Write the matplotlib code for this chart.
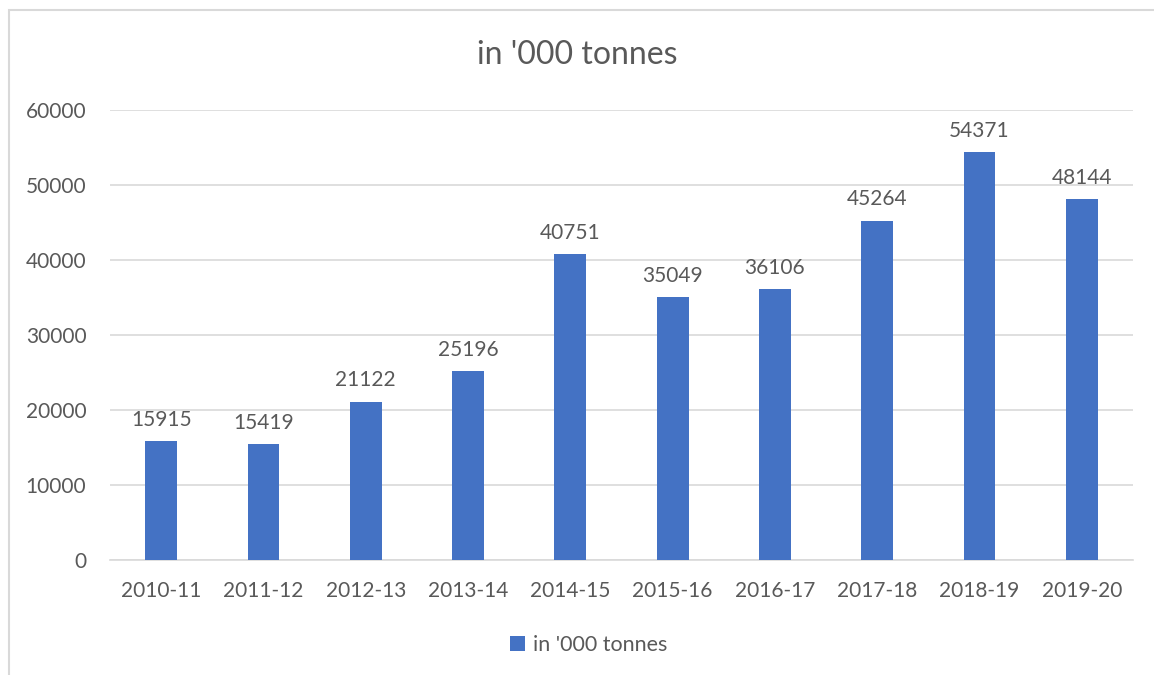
import matplotlib.pyplot as plt
from matplotlib.patches import Rectangle

plt.rcParams['font.family'] = ['Lato', 'DejaVu Sans']

years = ['2010-11', '2011-12', '2012-13', '2013-14', '2014-15',
         '2015-16', '2016-17', '2017-18', '2018-19', '2019-20']
tonnes = [15915, 15419, 21122, 25196, 40751, 35049, 36106, 45264, 54371, 48144]

text_col = '#595959'
bar_col = '#4472C4'
grid_col = '#D9D9D9'

fig = plt.figure(figsize=(11.54, 6.75), dpi=100)
# light frame around the chart area
fig.patches.append(Rectangle((9 / 1154, -0.01), 1.1, 1 - 10 / 675 + 0.01,
                             transform=fig.transFigure, fill=False,
                             edgecolor=grid_col, linewidth=1.5))

ax = fig.add_axes([110 / 1154, 1 - 560 / 675, 1023 / 1154, 450 / 675])
x = range(len(years))
bars = ax.bar(x, tonnes, width=0.31, color=bar_col, label="in '000 tonnes", zorder=3)
ax.bar_label(bars, labels=[str(v) for v in tonnes], padding=8,
             color=text_col, fontsize=15)

ax.set_xlim(-0.5, len(years) - 0.5)
ax.set_ylim(0, 60000)
ax.set_yticks(range(0, 60001, 10000))
ax.set_xticks(list(x))
ax.set_xticklabels(years)
ax.yaxis.grid(True, color=grid_col, linewidth=1.2, zorder=0)
for s in ['top', 'right', 'left']:
    ax.spines[s].set_visible(False)
ax.spines['bottom'].set_color(grid_col)
ax.spines['bottom'].set_linewidth(1.2)
ax.tick_params(axis='both', length=0, colors=text_col, labelsize=15)
ax.tick_params(axis='y', pad=17)
ax.tick_params(axis='x', pad=15)

fig.text(0.5, 1 - 55 / 675, "in '000 tonnes", ha='center', va='center',
         fontsize=23, color=text_col)

fig.legend(loc='center', bbox_to_anchor=(0.51, 1 - 645 / 675), frameon=False,
           fontsize=15.5, labelcolor=text_col, handlelength=0.7, handleheight=0.7,
           handletextpad=0.4)

fig.savefig('out.png', dpi=100)
